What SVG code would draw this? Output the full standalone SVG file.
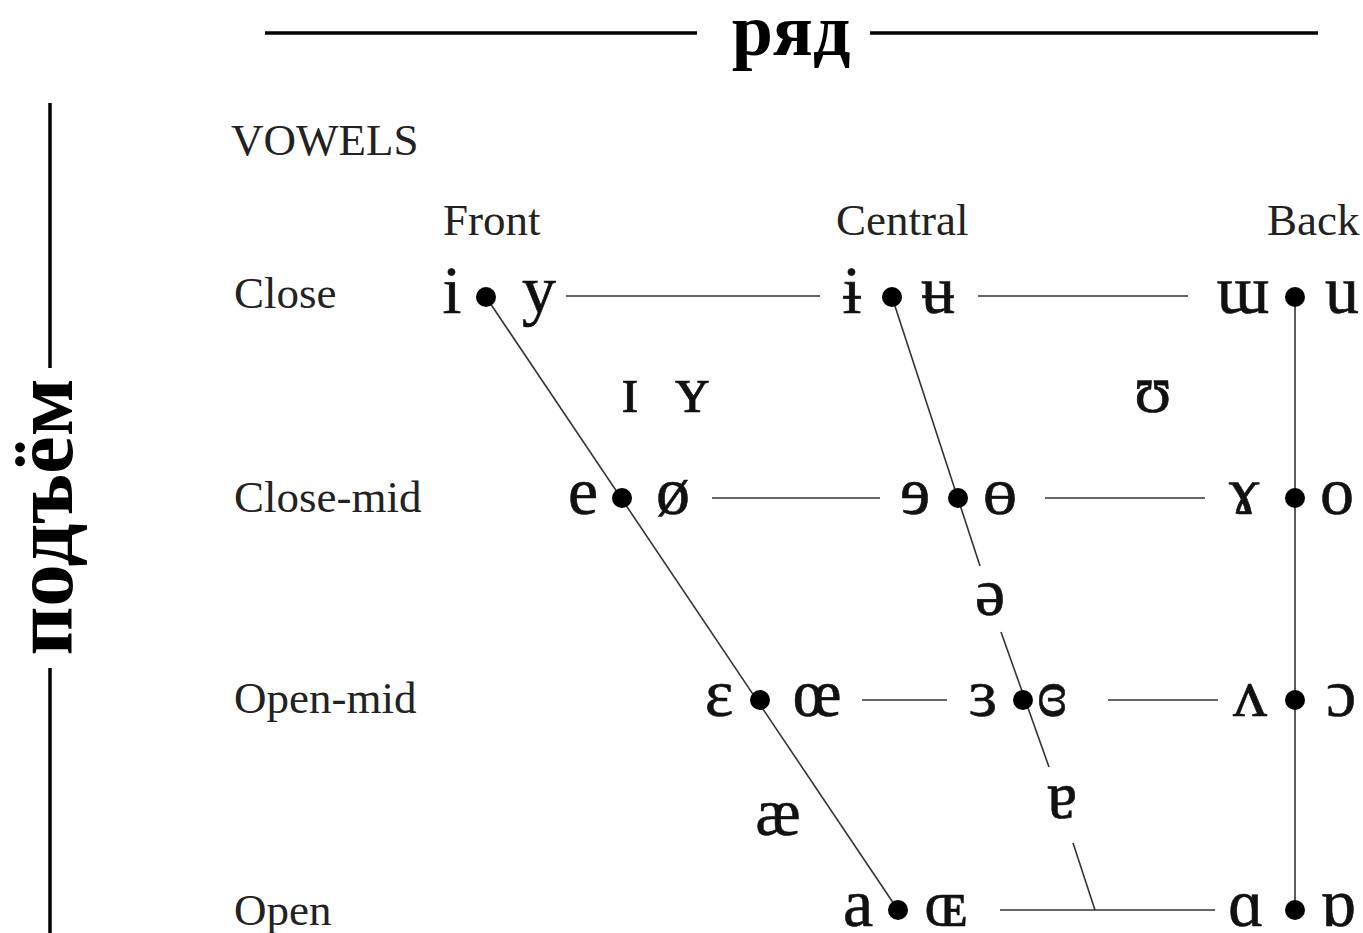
<svg xmlns="http://www.w3.org/2000/svg" width="1363" height="933" viewBox="0 0 1363 933">
<style>
.title{font-family:"Liberation Serif","DejaVu Serif",serif;font-weight:bold;fill:#000;}
.lbl{font-family:"Liberation Serif","DejaVu Serif",serif;font-size:45px;fill:#222;}
.sym{font-family:"Liberation Serif","DejaVu Serif",serif;font-size:68px;fill:#111;stroke:#111;stroke-width:0.6;text-anchor:middle;}
.thick{stroke:#000;stroke-width:3.5;}
.ln{stroke:#333;stroke-width:1.6;fill:none;}
.dot{fill:#000;}
</style>
<rect width="1363" height="933" fill="#fff"/>
<g id="axis-row">
<line class="thick" x1="265" y1="33" x2="697" y2="33"/>
<line class="thick" x1="870" y1="33" x2="1318" y2="33"/>
<text class="title" x="791" y="55" font-size="74" text-anchor="middle">ряд</text>
</g>
<g id="axis-height">
<line class="thick" x1="50" y1="103" x2="50" y2="368"/>
<line class="thick" x1="50" y1="668" x2="50" y2="933"/>
<text class="title" transform="translate(72,517) rotate(-90)" font-size="85" text-anchor="middle">подъём</text>
</g>
<g id="labels">
<text class="lbl" x="231" y="155">VOWELS</text>
<text class="lbl" x="443" y="235">Front</text>
<text class="lbl" x="836" y="235">Central</text>
<text class="lbl" x="1267" y="235">Back</text>
<text class="lbl" x="234" y="308">Close</text>
<text class="lbl" x="234" y="512">Close-mid</text>
<text class="lbl" x="234" y="713">Open-mid</text>
<text class="lbl" x="234" y="925">Open</text>
</g>
<g id="connectors">
<line class="ln" x1="566" y1="296" x2="820" y2="296"/>
<line class="ln" x1="978" y1="296" x2="1188" y2="296"/>
<line class="ln" x1="712" y1="498" x2="880" y2="498"/>
<line class="ln" x1="1045" y1="498" x2="1205" y2="498"/>
<line class="ln" x1="862" y1="700" x2="947" y2="700"/>
<line class="ln" x1="1108" y1="700" x2="1218" y2="700"/>
<line class="ln" x1="1000" y1="910" x2="1215" y2="910"/>
<line class="ln" x1="486" y1="297" x2="898" y2="910"/>
<line class="ln" x1="892" y1="297" x2="980" y2="566"/>
<line class="ln" x1="1001" y1="632" x2="1049" y2="767"/>
<line class="ln" x1="1073" y1="843" x2="1095" y2="910"/>
<line class="ln" x1="1295" y1="297" x2="1295" y2="910"/>
</g>
<g id="row-close">
<text class="sym" x="452" y="313">i</text><circle class="dot" cx="486" cy="297" r="10"/><text class="sym" x="539" y="313">y</text>
<text class="sym" x="852" y="313">ɨ</text><circle class="dot" cx="892" cy="297" r="10"/><text class="sym" x="938" y="313">ʉ</text>
<text class="sym" x="1243" y="313">ɯ</text><circle class="dot" cx="1295" cy="297" r="10"/><text class="sym" x="1342" y="313">u</text>
</g>
<g id="near-close">
<text class="sym" x="630" y="412">ɪ</text>
<text class="sym" x="692" y="412">ʏ</text>
<text class="sym" x="1153" y="412">ʊ</text>
</g>
<g id="row-close-mid">
<text class="sym" x="583" y="514">e</text><circle class="dot" cx="622" cy="498" r="10"/><text class="sym" x="673" y="514">ø</text>
<text class="sym" x="915" y="514">ɘ</text><circle class="dot" cx="958" cy="498" r="10"/><text class="sym" x="1000" y="514">ɵ</text>
<text class="sym" x="1244" y="514">ɤ</text><circle class="dot" cx="1295" cy="498" r="10"/><text class="sym" x="1337" y="514">o</text>
</g>
<g id="mid">
<text class="sym" x="990" y="615">ə</text>
</g>
<g id="row-open-mid">
<text class="sym" x="719" y="716">ɛ</text><circle class="dot" cx="760" cy="700" r="10"/><text class="sym" x="817" y="716">œ</text>
<text class="sym" x="983" y="716">ɜ</text><circle class="dot" cx="1023" cy="700" r="10"/><text class="sym" x="1052" y="716">ɞ</text>
<text class="sym" x="1250" y="716">ʌ</text><circle class="dot" cx="1295" cy="700" r="10"/><text class="sym" x="1341" y="716">ɔ</text>
</g>
<g id="near-open">
<text class="sym" x="778" y="835">æ</text>
<text class="sym" x="1062" y="818">ɐ</text>
</g>
<g id="row-open">
<text class="sym" x="858" y="926">a</text><circle class="dot" cx="898" cy="910" r="10"/><text class="sym" x="946" y="926">ɶ</text>
<text class="sym" x="1246" y="926">ɑ</text><circle class="dot" cx="1295" cy="910" r="10"/><text class="sym" x="1338" y="926">ɒ</text>
</g>
</svg>
